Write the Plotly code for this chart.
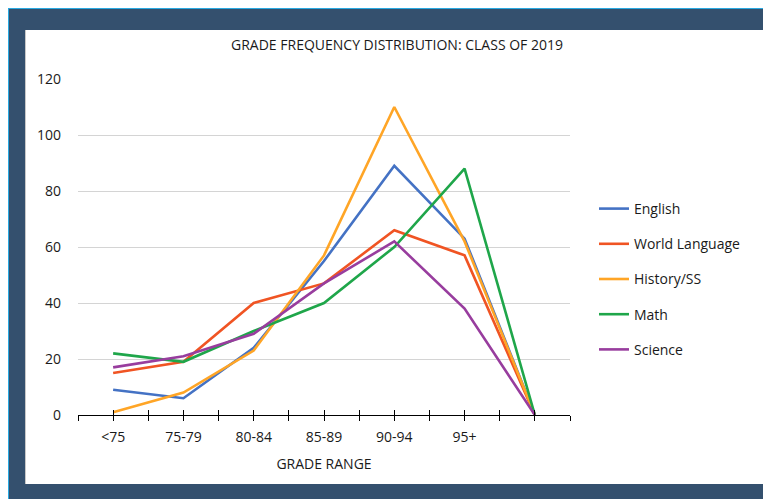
import plotly.graph_objects as go

categories = ["<75", "75-79", "80-84", "85-89", "90-94", "95+", ""]
english = [9, 6, 24, 55, 89, 63, 0]
world_language = [15, 19, 40, 47, 66, 57, 0]
history_ss = [1, 8, 23, 57, 110, 62, 0]
math = [22, 19, 30, 40, 60, 88, 0]
science = [17, 21, 29, 47, 62, 38, 0]

series = [
    ("English", english, "#4472c4"),
    ("World Language", world_language, "#f05423"),
    ("History/SS", history_ss, "#ffa526"),
    ("Math", math, "#1fa64a"),
    ("Science", science, "#983d9e"),
]

# the page body has an 8px margin, so the figure starts at page (8, 8)
OX, OY = 8, 8
W, H = 771 - OX, 499 - OY
L, R, T, B = 78 - OX, 570 - OX, 79 - OY, 415 - OY  # plot area in figure pixels


def px(x):  # page x -> paper
    return (x - OX - L) / (R - L)


def py(y):  # page y -> paper
    return (B - (y - OY)) / (B - T)


xs = list(range(len(categories)))
fig = go.Figure()
for i, (name, vals, col) in enumerate(series):
    fig.add_trace(go.Scatter(x=xs, y=vals, mode="lines", name=name,
                             line=dict(color=col, width=2.6),
                             legendgroup=str(i)))
# invisible trace to carry the overlay axis for crossing ticks
fig.add_trace(go.Scatter(x=xs, y=[None] * len(xs), xaxis="x2", showlegend=False,
                         hoverinfo="skip"))

half_ticks = [v / 2 - 0.5 for v in range(0, 2 * len(categories) + 1)]
ticktext = []
for t in half_ticks:
    if abs(t - round(t)) < 1e-9 and 0 <= round(t) < len(categories):
        ticktext.append(categories[int(round(t))])
    else:
        ticktext.append("")

font = "Open Sans"
shapes = [
    dict(type="rect", xref="paper", yref="paper", x0=px(8), x1=px(790), y0=py(8), y1=py(520),
         fillcolor="#29a9e1", line=dict(width=0), layer="below"),
    dict(type="rect", xref="paper", yref="paper", x0=px(9), x1=px(790), y0=py(9), y1=py(520),
         fillcolor="#34506e", line=dict(width=0), layer="below"),
    dict(type="rect", xref="paper", yref="paper", x0=px(25), x1=px(766), y0=py(30), y1=py(484),
         fillcolor="#c8c8c8", line=dict(width=0), layer="below"),
    dict(type="rect", xref="paper", yref="paper", x0=px(26), x1=px(764), y0=py(30), y1=py(484),
         fillcolor="white", line=dict(width=0), layer="below"),
]

fig.update_layout(
    width=W, height=H,
    margin=dict(l=L, r=W - R, t=T, b=H - B, pad=0),
    paper_bgcolor="white", plot_bgcolor="white",
    font=dict(family=font, color="#1a1a1a", size=14),
    title=dict(text="GRADE FREQUENCY DISTRIBUTION: CLASS OF 2019", x=(397 - OX) / W, xref="container",
               xanchor="center", y=1 - (45 - OY) / H, yanchor="middle", yref="container",
               font=dict(family=font, size=14, color="#1a1a1a")),
    shapes=shapes,
    showlegend=True,
    legend=dict(x=px(594), y=py(193), xanchor="left", yanchor="top",
                bgcolor="rgba(0,0,0,0)", font=dict(family=font, size=14, color="#1a1a1a"),
                tracegroupgap=14, itemwidth=30),
    xaxis=dict(range=[-0.5, len(categories) - 0.5], tickmode="array", tickvals=half_ticks,
               ticktext=ticktext, ticks="outside", ticklen=5, tickwidth=1.3, tickcolor="black",
               showline=True, linecolor="black", linewidth=1.3, showgrid=False, zeroline=False,
               tickfont=dict(size=14), title=dict(text="GRADE RANGE", font=dict(size=14), standoff=14),
               ticklabelstandoff=4),
    xaxis2=dict(range=[-0.5, len(categories) - 0.5], overlaying="x", side="bottom", anchor="y",
                tickmode="array", tickvals=half_ticks, ticktext=[""] * len(half_ticks),
                ticks="inside", ticklen=5, tickwidth=1.3, tickcolor="black",
                showline=False, showgrid=False, zeroline=False, showticklabels=False),
    yaxis=dict(range=[0, 120], tickvals=[0, 20, 40, 60, 80, 100, 120], showgrid=True,
               gridcolor="#d4d4d4", gridwidth=1.3, zeroline=False, showline=False,
               tickfont=dict(size=14), ticks="", ticklabelstandoff=16),
)

fig.write_html("out.html")
